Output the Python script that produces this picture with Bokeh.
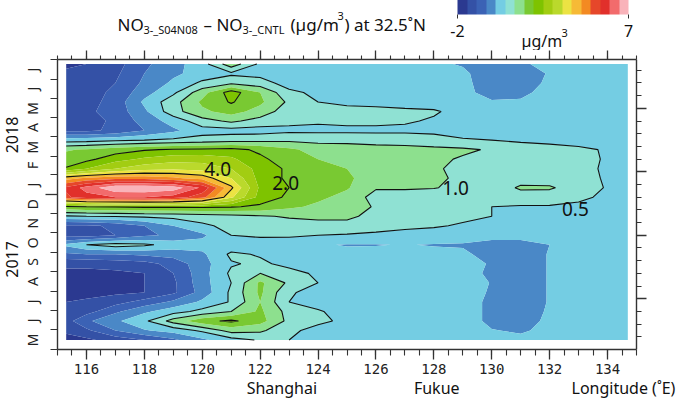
import numpy as np
from bokeh.plotting import figure
from bokeh.layouts import column
from bokeh.models import (LinearAxis, FixedTicker, Range1d, ColorBar, LinearColorMapper,
                          ColumnDataSource, CustomLabelingPolicy)
from bokeh.core.properties import value
from bokeh.embed import file_html
from bokeh.resources import INLINE

# ---------------- data ----------------
lon = [115.3, 116, 117, 118, 119, 120, 121, 122, 123, 124, 125,
       126, 127, 128, 129, 130, 131, 132, 133, 134, 134.7]
# days since 1 Jan 2017
day = [135, 150, 165, 180, 195, 210, 225, 240, 255, 270, 285, 300, 315, 330, 345,
       360, 375, 390, 405, 420, 435, 450, 465, 480, 495, 510, 525, 540, 555, 570]

z_d135 = [-1.7, -1.6, -1.3, -1.0, -0.6, -0.1, 0.3, 0.55, 0.5, 0.3, 0.2, 0.2, 0.2, 0.2, 0.2, 0.1, 0.1, 0.15, 0.2, 0.2, 0.2]
z_d150 = [-1.4, -1.1, -0.5, -0.05, 0.2, 0.6, 1.2, 1.1, 0.6, 0.35, 0.25, 0.2, 0.2, 0.2, 0.2, 0.02, -0.05, 0.1, 0.2, 0.2, 0.2]
z_d165 = [-1.2, -0.6, -0.1, 0.4, 1.2, 1.85, 2.1, 1.7, 0.85, 0.6, 0.4, 0.25, 0.2, 0.2, 0.2, -0.1, -0.2, 0.1, 0.2, 0.2, 0.2]
z_d180 = [-1.4, -1.2, -0.6, -0.1, 0.3, 0.65, 1.0, 1.6, 0.8, 0.55, 0.3, 0.2, 0.2, 0.2, 0.2, -0.1, -0.2, 0.05, 0.2, 0.2, 0.2]
z_d195 = [-1.5, -1.4, -1.2, -0.8, -0.4, 0.1, 0.55, 1.5, 0.5, 0.3, 0.2, 0.2, 0.2, 0.2, 0.2, -0.1, -0.25, 0.03, 0.2, 0.2, 0.2]
z_d210 = [-1.6, -1.7, -1.6, -1.5, -1.1, -0.3, 0.6, 1.6, 0.55, 0.35, 0.25, 0.2, 0.2, 0.2, 0.2, -0.05, -0.25, 0.03, 0.2, 0.2, 0.2]
z_d225 = [-1.6, -1.7, -1.6, -1.5, -1.1, -0.2, 0.5, 1.6, 0.9, 0.5, 0.3, 0.2, 0.2, 0.2, 0.2, -0.02, -0.25, 0.03, 0.2, 0.2, 0.2]
z_d240 = [-1.6, -1.6, -1.6, -1.5, -1.0, -0.2, 0.6, 1.0, 0.7, 0.4, 0.25, 0.2, 0.2, 0.2, 0.2, -0.1, -0.25, 0.03, 0.2, 0.2, 0.2]
z_d255 = [-1.4, -1.4, -1.3, -1.2, -0.8, -0.2, 0.45, 0.6, 0.35, 0.2, 0.2, 0.2, 0.2, 0.2, 0.2, -0.05, -0.25, 0.03, 0.2, 0.2, 0.2]
z_d270 = [-0.6, -0.5, -0.5, -0.4, -0.3, -0.1, 0.6, 0.45, 0.3, 0.2, 0.15, 0.15, 0.15, 0.15, 0.1, -0.2, -0.25, 0.03, 0.15, 0.15, 0.15]
z_d285 = [0.1, 0.5, 0.75, 0.6, 0.3, 0.2, 0.2, 0.15, 0.1, 0.05, -0.03, -0.02, 0.02, -0.03, -0.05, -0.2, -0.2, 0.0, 0.05, 0.05, 0.05]
z_d300 = [-1.2, -1.2, -1.0, -0.6, -0.4, -0.1, 0.5, 0.6, 0.6, 0.5, 0.45, 0.4, 0.35, 0.3, 0.25, 0.2, 0.2, 0.25, 0.25, 0.25, 0.25]
z_d315 = [-1.1, -1.1, -0.9, -0.5, 0.0, 0.4, 0.65, 0.75, 0.8, 0.85, 0.85, 0.7, 0.6, 0.55, 0.45, 0.35, 0.3, 0.3, 0.3, 0.3, 0.3]
z_d330 = [0.45, 0.5, 0.55, 0.6, 0.65, 0.75, 0.85, 0.95, 1.05, 1.1, 1.1, 0.85, 0.7, 0.65, 0.6, 0.5, 0.5, 0.45, 0.4, 0.35, 0.35]
z_d345 = [1.9, 2.0, 2.05, 2.1, 2.1, 2.1, 2.05, 1.9, 1.6, 1.4, 1.25, 0.95, 0.8, 0.7, 0.6, 0.5, 0.45, 0.45, 0.4, 0.4, 0.35]
z_d360 = [5.4, 5.8, 6.0, 6.0, 5.8, 5.2, 3.6, 2.3, 1.9, 1.6, 1.35, 0.8, 0.8, 0.8, 0.8, 0.8, 0.85, 0.8, 0.6, 0.4, 0.35]
z_d375 = [5.6, 6.2, 6.9, 6.95, 6.8, 5.9, 4.1, 2.4, 2.0, 1.75, 1.55, 1.05, 1.05, 1.02, 0.9, 0.8, 1.05, 1.05, 0.8, 0.45, 0.4]
z_d390 = [4.3, 4.6, 4.8, 4.8, 4.6, 4.3, 3.5, 2.3, 1.9, 1.7, 1.55, 1.35, 1.2, 1.1, 0.9, 0.85, 0.85, 0.8, 0.65, 0.45, 0.4]
z_d405 = [2.05, 2.5, 3.0, 3.3, 3.4, 3.3, 3.0, 2.3, 1.9, 1.65, 1.5, 1.3, 1.2, 1.05, 0.9, 0.85, 0.8, 0.75, 0.6, 0.45, 0.4]
z_d420 = [1.7, 1.85, 2.3, 2.6, 2.8, 2.8, 2.6, 2.1, 1.75, 1.5, 1.35, 1.25, 1.2, 1.1, 0.95, 0.85, 0.75, 0.7, 0.65, 0.45, 0.4]
z_d435 = [1.45, 1.55, 1.75, 1.95, 2.05, 2.1, 2.15, 1.9, 1.6, 1.3, 1.25, 1.2, 1.15, 1.1, 1.08, 0.95, 0.75, 0.7, 0.6, 0.45, 0.4]
z_d450 = [0.25, 0.3, 0.4, 0.5, 0.6, 0.7, 0.8, 0.85, 0.9, 0.85, 0.85, 0.8, 0.8, 0.75, 0.55, 0.5, 0.42, 0.35, 0.3, 0.25, 0.25]
z_d465 = [-1.1, -1.1, -0.9, -0.5, -0.1, 0.3, 0.3, 0.3, 0.4, 0.4, 0.4, 0.4, 0.4, 0.35, 0.3, 0.25, 0.25, 0.2, 0.2, 0.2, 0.2]
z_d480 = [-1.2, -1.2, -0.9, -0.3, 0.2, 0.8, 1.1, 0.8, 0.6, 0.55, 0.6, 0.6, 0.55, 0.45, 0.3, 0.2, 0.2, 0.2, 0.2, 0.2, 0.2]
z_d495 = [-1.2, -1.1, -0.8, -0.1, 0.8, 1.4, 1.7, 1.3, 0.7, 0.6, 0.65, 0.65, 0.6, 0.55, 0.35, 0.2, 0.2, 0.2, 0.2, 0.2, 0.2]
z_d510 = [-1.3, -1.2, -0.8, 0.1, 0.8, 1.6, 2.05, 1.6, 0.9, 0.5, 0.4, 0.35, 0.3, 0.3, 0.2, 0.05, 0.05, 0.2, 0.2, 0.2, 0.2]
z_d525 = [-1.3, -1.2, -0.9, -0.2, 0.4, 1.3, 2.25, 1.5, 0.6, 0.4, 0.3, 0.25, 0.2, 0.2, 0.15, -0.2, -0.1, 0.15, 0.2, 0.2, 0.2]
z_d540 = [-1.3, -1.2, -1.0, -0.4, 0.1, 0.6, 0.9, 0.7, 0.3, 0.2, 0.2, 0.2, 0.2, 0.15, 0.15, -0.3, -0.25, 0.1, 0.2, 0.2, 0.2]
z_d555 = [-1.4, -1.3, -1.1, -0.5, -0.1, 0.2, 0.4, 0.35, 0.2, 0.2, 0.2, 0.2, 0.2, 0.15, 0.1, -0.3, -0.3, 0.05, 0.2, 0.2, 0.2]
z_d570 = [-1.6, -1.5, -1.2, -0.6, -0.2, 0.3, 1.3, 0.4, 0.2, 0.2, 0.2, 0.2, 0.15, 0.1, -0.05, -0.3, -0.05, 0.1, 0.2, 0.2, 0.2]

fill_levels = [-2.0, -1.5, -1.0, -0.5, 0.0, 0.5, 1.0, 1.5, 2.0, 2.5, 3.0,
               3.5, 4.0, 4.5, 5.0, 5.5, 6.0, 6.5, 7.0]
line_levels = [0.5, 1.0, 2.0, 4.0]
palette = ["#2b3990", "#3451a6", "#3b62b5", "#4a88c7", "#74cde3", "#8fe1d3",
           "#8de08e", "#79c932", "#7ec300", "#a2cd12", "#bad92c", "#ece343",
           "#f6ba36", "#f38a22", "#e6472a", "#e1302b", "#f26b6c", "#f9b3ba"]

lab_text = ["4.0", "2.0", "1.0", "0.5"]
lab_lon = [120.53, 122.88, 128.75, 132.89]
lab_day = [405, 382, 375, 342]

lon_major = [116, 118, 120, 122, 124, 126, 128, 130, 132, 134]
lon_minor = [115 + 0.5 * i for i in range(41)]
place_lon = [122.75, 128.1, 134.55]
place_text = ["Shanghai", "Fukue", "Longitude (\u02daE)"]

month_bounds = [120, 151, 181, 212, 243, 273, 304, 334, 365, 396, 424, 455, 485, 516, 546, 577]
month_mid = [135, 166, 196, 227, 258, 288, 319, 349, 380, 410, 439, 470, 500, 531, 561]
month_text = ["M", "J", "J", "A", "S", "O", "N", "D", "J", "F", "M", "A", "M", "J", "J"]
year_pos = [262, 458]
year_text = ["2017", "2018"]
day_major = [200, 300, 400, 500]
day_minor = [140 + 20 * i for i in range(22)]

title_text = ["NO", "3-_S04N08", "\u2013 NO", "3-_CNTL", "(\u00b5g/m", "3", ") at 32.5\u02daN", "\u00b5g/m", "3"]
title_x = [117, 143, 203, 242, 290, 337, 344, 521, 561]
title_y = [24, 29, 24, 29, 24, 15, 24, 40, 32]
title_size = ["17px", "11px", "17px", "11px", "17px", "11px", "17px", "16px", "11px"]

FONT = "Noto Sans"
HEAD_H = 50

# ---------------- header (title + colour bar) ----------------
# x range in page pixels (frame is aligned with the main panel: 57..636)
head = figure(width=685, height=HEAD_H, x_range=Range1d(57, 636), y_range=Range1d(HEAD_H, 0),
              title=None, output_backend="svg", toolbar_location=None, x_axis_location=None,
              y_axis_location=None, min_border_left=57, min_border_right=49,
              min_border_top=0, min_border_bottom=0, outline_line_color=None)
head.xgrid.visible = False
head.ygrid.visible = False
tsrc = ColumnDataSource(dict(x=title_x, y=title_y, t=title_text, s=title_size))
head.text(x="x", y="y", text="t", text_font_size="s", source=tsrc, text_font=value(FONT),
          text_align="left", text_baseline="alphabetic", text_color="#111111")

mapper = LinearColorMapper(palette=palette, low=-2, high=7)
cb = ColorBar(color_mapper=mapper, orientation="horizontal", width=171, height=15,
              location=(400, 11), ticker=FixedTicker(ticks=[-2, 7]),
              major_label_overrides={-2: "-2", 7: "7"},
              major_tick_out=4, major_tick_in=0, major_tick_line_color="#333333",
              label_standoff=6, major_label_text_font_size="16px",
              major_label_text_font=FONT, major_label_text_color="#111111",
              padding=0, margin=0, background_fill_alpha=0, border_line_color=None,
              bar_line_color=None)
head.add_layout(cb, "center")

# ---------------- main panel ----------------
Z = np.array([z_d135, z_d150, z_d165, z_d180, z_d195, z_d210, z_d225, z_d240, z_d255, z_d270,
              z_d285, z_d300, z_d315, z_d330, z_d345, z_d360, z_d375, z_d390, z_d405, z_d420,
              z_d435, z_d450, z_d465, z_d480, z_d495, z_d510, z_d525, z_d540, z_d555, z_d570])

p = figure(width=685, height=404 - HEAD_H, x_range=Range1d(115, 135), y_range=Range1d(120, 577),
           title=None, output_backend="svg", toolbar_location=None,
           x_axis_location=None, y_axis_location=None,
           min_border_left=57, min_border_right=49, min_border_top=59 - HEAD_H, min_border_bottom=55,
           outline_line_color=None, background_fill_color="white", border_fill_color="white")
p.xgrid.visible = False
p.ygrid.visible = False

p.contour(lon, day, Z, levels=fill_levels, fill_color=palette, line_color=None)
p.contour(lon, day, Z, levels=line_levels, line_color="#111111", line_width=1.1)

src = ColumnDataSource(dict(x=lab_lon, y=lab_day, t=lab_text))
p.text(x="x", y="y", text="t", source=src, text_font=value(FONT), text_font_size="19px",
       text_align="center", text_baseline="middle", text_color="#111111")

no_labels = dict(major_label_policy=CustomLabelingPolicy(
    code="for (const i of Array.from(indices)) { indices.unset(i) }\nreturn indices"),
    major_label_standoff=0, major_label_text_font_size="0px")

AX = dict(axis_line_width=1.4, axis_line_color="#333333", major_tick_line_color="#333333",
          minor_tick_line_color="#333333", major_tick_line_width=1.3, minor_tick_line_width=1.1,
          major_tick_in=0, minor_tick_in=0)

xb = LinearAxis(ticker=FixedTicker(ticks=lon_major, minor_ticks=lon_minor), major_tick_out=10,
                minor_tick_out=6, major_label_standoff=4, major_label_text_font_size="14px",
                major_label_text_font="DejaVu Sans Mono", major_label_text_color="#222222", **AX)
p.add_layout(xb, "below")
xp = LinearAxis(ticker=FixedTicker(ticks=place_lon), major_label_overrides=dict(zip(place_lon, place_text)),
                major_tick_out=0, major_tick_in=0, minor_tick_out=0, minor_tick_in=0,
                axis_line_color=None, major_label_standoff=0, major_label_text_font_size="16px",
                major_label_text_font=FONT, major_label_text_color="#111111")
p.add_layout(xp, "below")
xt = LinearAxis(ticker=FixedTicker(ticks=lon_major, minor_ticks=lon_minor), major_tick_out=9,
                minor_tick_out=4, **no_labels, **AX)
p.add_layout(xt, "above")

yl = LinearAxis(ticker=FixedTicker(ticks=[365], minor_ticks=month_bounds), major_tick_out=12,
                minor_tick_out=7, **no_labels, **AX)
p.add_layout(yl, "left")
ym = LinearAxis(ticker=FixedTicker(ticks=month_mid), major_label_overrides=dict(zip(month_mid, month_text)),
                major_tick_out=0, major_tick_in=0, minor_tick_out=0, minor_tick_in=0, axis_line_color=None,
                major_label_orientation="vertical", major_label_standoff=3,
                major_label_text_font_size="14px", major_label_text_font=FONT,
                major_label_text_color="#222222")
p.add_layout(ym, "left")
yy = LinearAxis(ticker=FixedTicker(ticks=year_pos), major_label_overrides=dict(zip(year_pos, year_text)),
                major_tick_out=0, major_tick_in=0, minor_tick_out=0, minor_tick_in=0, axis_line_color=None,
                major_label_orientation="vertical", major_label_standoff=2,
                major_label_text_font_size="16px", major_label_text_font=FONT,
                major_label_text_color="#111111")
p.add_layout(yy, "left")
yr = LinearAxis(ticker=FixedTicker(ticks=day_major, minor_ticks=day_minor), major_tick_out=10,
                minor_tick_out=5, **no_labels, **AX)
p.add_layout(yr, "right")

layout = column(head, p, spacing=0)
open("out.html", "w").write(file_html(layout, INLINE))
